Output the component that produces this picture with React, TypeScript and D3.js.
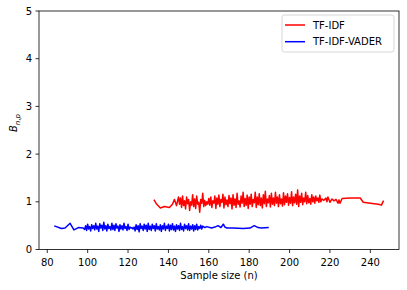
import React from "react";
import * as d3 from "d3";

const xTicks = [80, 100, 120, 140, 160, 180, 200, 220, 240];
const yTicks = [0, 1, 2, 3, 4, 5];
const seriesNames = ["TF-IDF", "TF-IDF-VADER"];
const seriesColors = ["#ff0000", "#0000ff"];

const redX = [
  133, 134, 136, 138, 140.5, 142, 143, 144, 145,
  145.5, 146, 146.5, 147, 147.5, 148, 148.5, 149, 149.5, 150,
  150.5, 151, 151.5, 152, 152.5, 153, 153.5, 154, 154.5, 155,
  155.5, 156, 156.5, 157, 157.5, 158, 158.5, 159, 159.5, 160,
  160.5, 161, 161.5, 162, 162.5, 163, 163.5, 164, 164.5, 165,
  165.5, 166, 166.5, 167, 167.5, 168, 168.5, 169, 169.5, 170,
  170.5, 171, 171.5, 172, 172.5, 173, 173.5, 174, 174.5, 175,
  175.5, 176, 176.5, 177, 177.5, 178, 178.5, 179, 179.5, 180,
  180.5, 181, 181.5, 182, 182.5, 183, 183.5, 184, 184.5, 185,
  185.5, 186, 186.5, 187, 187.5, 188, 188.5, 189, 189.5, 190,
  190.5, 191, 191.5, 192, 192.5, 193, 193.5, 194, 194.5, 195,
  195.5, 196, 196.5, 197, 197.5, 198, 198.5, 199, 199.5, 200,
  200.5, 201, 201.5, 202, 202.5, 203, 203.5, 204, 204.5, 205,
  205.5, 206, 206.5, 207, 207.5, 208, 208.5, 209, 209.5, 210,
  210.5, 211, 211.5, 212, 212.5, 213, 213.5, 214, 214.5, 215,
  215.5, 216, 217,
  218, 218.5, 219, 220, 221, 222, 223, 224, 224.5, 225, 226,
  230, 235, 236.5, 240, 244, 245.5, 246.4,
];
const redY = [
  1.03, 0.96, 0.87, 0.9, 0.88, 0.95, 1.05, 0.92, 1.1,
  0.95, 1.08, 0.88, 1.12, 0.92, 1.02, 0.85, 1.1, 0.96, 1.05,
  0.82, 1.0, 0.93, 1.15, 0.9, 1.06, 0.86, 1.12, 0.95, 0.99,
  0.78, 1.05, 0.97, 1.18, 0.9, 1.03, 0.92, 1.0, 0.95, 1.07,
  0.93, 1.1, 0.88, 1.02, 0.97, 1.12, 0.86, 1.08, 0.95, 1.14,
  0.9, 1.05, 0.99, 1.16, 0.87, 1.1, 0.94, 1.04, 0.9, 1.13,
  0.96, 1.08, 0.85, 1.15, 0.93, 1.06, 0.88, 1.18, 0.95, 1.02,
  0.89, 1.12, 0.97, 1.2, 0.9, 1.07, 0.93, 1.14, 0.86, 1.1,
  0.95, 1.16, 0.9, 1.05, 0.98, 1.2, 0.88, 1.1, 0.94, 1.17,
  0.92, 1.08, 0.87, 1.15, 0.96, 1.22, 0.9, 1.06, 0.98, 1.13,
  0.89, 1.18, 0.95, 1.08, 0.92, 1.2, 0.97, 1.1, 0.9, 1.15,
  0.96, 1.06, 0.91, 1.19, 0.94, 1.12, 0.99, 1.17, 0.93, 1.09,
  0.97, 1.21, 0.92, 1.1, 0.98, 1.16, 0.95, 1.25, 0.9, 1.12,
  0.99, 1.18, 0.94, 1.08, 1.0, 1.2, 0.96, 1.13, 0.98, 1.07,
  0.95, 1.15, 1.0, 1.1, 0.97, 1.12, 1.02, 1.08, 0.99, 1.14,
  1.0, 1.06, 1.03,
  1.08, 1.0, 1.1, 0.99, 1.06, 1.02, 1.05, 0.97, 1.04, 0.97, 1.07,
  1.08, 1.08, 0.99, 0.97, 0.95, 0.93, 1.01,
];

const blueX = [
  83.8, 87, 88.8, 91.3, 93.2, 95.4, 97.8,
  98.5, 99, 99.5, 100, 100.5, 101, 101.5, 102, 102.5, 103,
  103.5, 104, 104.5, 105, 105.5, 106, 106.5, 107, 107.5, 108,
  108.5, 109, 109.5, 110, 110.5, 111, 111.5, 112, 112.5, 113,
  113.5, 114, 114.5, 115, 115.5, 116, 116.5, 117, 117.5, 118,
  118.5, 119, 119.5, 120, 120.5, 121, 121.5, 122, 122.5, 123,
  123.5, 124, 124.5, 125, 125.5, 126, 126.5, 127, 127.5, 128,
  128.5, 129, 129.5, 130, 130.5, 131, 131.5, 132, 132.5, 133,
  133.5, 134, 134.5, 135, 135.5, 136, 136.5, 137, 137.5, 138,
  138.5, 139, 139.5, 140, 140.5, 141, 141.5, 142, 142.5, 143,
  143.5, 144, 144.5, 145, 145.5, 146, 146.5, 147, 147.5, 148,
  148.5, 149, 149.5, 150, 150.5, 151, 151.5, 152, 152.5, 153,
  153.5, 154, 154.5, 155, 155.5, 156, 156.5, 157,
  158, 159, 161.4, 163, 164.6, 166, 167.2, 168, 169, 172, 177, 180.4, 182.5, 184.4, 186, 189.3,
];
const blueY = [
  0.49, 0.44, 0.45, 0.55, 0.41, 0.46, 0.45,
  0.42, 0.5, 0.4, 0.53, 0.43, 0.48, 0.39, 0.52, 0.44, 0.5,
  0.41, 0.55, 0.43, 0.49, 0.38, 0.54, 0.45, 0.51, 0.4, 0.57,
  0.43, 0.5, 0.39, 0.53, 0.44, 0.48, 0.41, 0.55, 0.42, 0.51,
  0.4, 0.54, 0.45, 0.49, 0.38, 0.52, 0.43, 0.5, 0.41, 0.55,
  0.44, 0.48, 0.4, 0.53, 0.42, 0.47, 0.45, 0.46, 0.43, 0.47,
  0.39, 0.52, 0.42, 0.5, 0.37, 0.54, 0.44, 0.49, 0.4, 0.53,
  0.43, 0.51, 0.38, 0.55, 0.42, 0.49, 0.4, 0.53, 0.44, 0.5,
  0.39, 0.54, 0.43, 0.48, 0.41, 0.52, 0.38, 0.5, 0.43, 0.55,
  0.4, 0.49, 0.44, 0.53, 0.39, 0.51, 0.42, 0.54, 0.41, 0.49,
  0.38, 0.52, 0.43, 0.5, 0.4, 0.55, 0.42, 0.48, 0.39, 0.53,
  0.44, 0.5, 0.41, 0.54, 0.4, 0.49, 0.43, 0.52, 0.39, 0.5,
  0.42, 0.53, 0.41, 0.48, 0.44, 0.51, 0.43, 0.49,
  0.46, 0.48, 0.45, 0.47, 0.5, 0.46, 0.53, 0.47, 0.45, 0.45, 0.44, 0.45, 0.5, 0.46, 0.45, 0.46,
];

const W = 407;
const H = 290;
const left = 39;
const right = 399;
const top = 11;
const bottom = 249.5;
const FONT = "'DejaVu Sans', sans-serif";

export default function App() {
  const x = d3.scaleLinear().domain([75.9, 254.2]).range([left, right]);
  const y = d3.scaleLinear().domain([0, 5]).range([bottom, top]);
  const line = d3
    .line<[number, number]>()
    .x((d) => x(d[0]))
    .y((d) => y(d[1]));
  const red: [number, number][] = redX.map((v, i) => [v, redY[i]]);
  const blue: [number, number][] = blueX.map((v, i) => [v, blueY[i]]);

  return (
    <svg
      width={W}
      height={H}
      style={{ position: "fixed", left: 0, top: 0, background: "#fff" }}
      fontFamily={FONT}
    >
      <rect x={0} y={0} width={W} height={H} fill="#fff" />
      <defs>
        <clipPath id="clip">
          <rect x={left} y={top} width={right - left} height={bottom - top} />
        </clipPath>
      </defs>
      <g clipPath="url(#clip)">
        <path d={line(red) || ""} fill="none" stroke={seriesColors[0]} strokeWidth={1.5} strokeLinejoin="round" strokeLinecap="square" />
        <path d={line(blue) || ""} fill="none" stroke={seriesColors[1]} strokeWidth={1.5} strokeLinejoin="round" strokeLinecap="square" />
      </g>
      {/* spines */}
      <rect x={left} y={top} width={right - left} height={bottom - top} fill="none" stroke="#000" strokeWidth={0.8} />
      {/* x ticks */}
      {xTicks.map((t) => (
        <g key={"x" + t}>
          <line x1={x(t)} x2={x(t)} y1={bottom} y2={bottom + 3.5} stroke="#000" strokeWidth={0.8} />
          <text x={x(t)} y={265.5} fontSize={10} textAnchor="middle" fill="#000">
            {t}
          </text>
        </g>
      ))}
      {yTicks.map((t) => (
        <g key={"y" + t}>
          <line x1={left - 3.5} x2={left} y1={y(t)} y2={y(t)} stroke="#000" strokeWidth={0.8} />
          <text x={left - 7} y={y(t) + 3.6} fontSize={10} textAnchor="end" fill="#000">
            {t}
          </text>
        </g>
      ))}
      <text x={(left + right) / 2} y={279} fontSize={10} textAnchor="middle" fill="#000">
        Sample size (n)
      </text>
      <text transform={`translate(17,123) rotate(-90)`} fontSize={10} textAnchor="middle" fill="#000">
        <tspan fontStyle="italic">B</tspan>
        <tspan fontSize={7} dy={2.5} fontStyle="italic">n</tspan>
        <tspan fontSize={7}>,</tspan>
        <tspan fontSize={7} fontStyle="italic">p</tspan>
      </text>
      {/* legend */}
      <rect x={282} y={15} width={112} height={37} rx={2.5} fill="#fff" fillOpacity={0.8} stroke="#cccccc" strokeWidth={0.8} />
      {seriesNames.map((n, i) => (
        <g key={n}>
          <line x1={285} x2={305} y1={25 + i * 16.7} y2={25 + i * 16.7} stroke={seriesColors[i]} strokeWidth={1.5} />
          <text x={313} y={25 + i * 16.7 + 3.6} fontSize={10} fill="#000">
            {n}
          </text>
        </g>
      ))}
    </svg>
  );
}
